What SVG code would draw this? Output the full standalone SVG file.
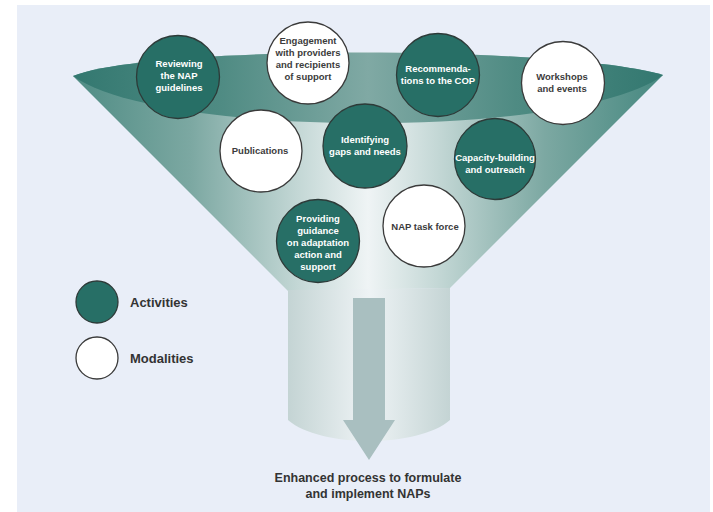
<svg xmlns="http://www.w3.org/2000/svg" width="713" height="512" viewBox="0 0 713 512">
  <defs>
    <linearGradient id="coneGrad" x1="73" y1="0" x2="663" y2="0" gradientUnits="userSpaceOnUse">
      <stop offset="0" stop-color="#4f8c84"/>
      <stop offset="0.2" stop-color="#7ca8a2"/>
      <stop offset="0.38" stop-color="#c3d7d5"/>
      <stop offset="0.5" stop-color="#eff4f5"/>
      <stop offset="0.62" stop-color="#c3d7d5"/>
      <stop offset="0.8" stop-color="#7ca8a2"/>
      <stop offset="1" stop-color="#468880"/>
    </linearGradient>
    <linearGradient id="lensGrad" x1="73" y1="0" x2="663" y2="0" gradientUnits="userSpaceOnUse">
      <stop offset="0" stop-color="#337870"/>
      <stop offset="0.25" stop-color="#4f8b83"/>
      <stop offset="0.5" stop-color="#80a9a4"/>
      <stop offset="0.75" stop-color="#4f8b83"/>
      <stop offset="1" stop-color="#337870"/>
    </linearGradient>
    <linearGradient id="spoutGrad" x1="288" y1="0" x2="450" y2="0" gradientUnits="userSpaceOnUse">
      <stop offset="0" stop-color="#c4d4d4"/>
      <stop offset="0.5" stop-color="#eef3f5"/>
      <stop offset="1" stop-color="#c4d4d4"/>
    </linearGradient>
    <style>
      .act { fill: #276f66; stroke: #2d3a38; stroke-width: 1.3; }
      .mod { fill: #ffffff; stroke: #3a3a3a; stroke-width: 1.3; }
      .lbl { font-family: "Liberation Sans", Arial, sans-serif; font-size: 9.5px; font-weight: bold; text-anchor: middle; }
      .lw { fill: #ffffff; }
      .ld { fill: #3c3c3c; }
      .leg { font-family: "Liberation Sans", Arial, sans-serif; font-size: 13px; font-weight: bold; fill: #333333; }
      .out { font-family: "Liberation Sans", Arial, sans-serif; font-size: 12.5px; font-weight: bold; fill: #333333; text-anchor: middle; }
    </style>
  </defs>

  <rect x="0" y="0" width="713" height="512" fill="#ffffff"/>
  <rect x="17" y="5" width="693" height="507" fill="#e9eef8"/>

  <g id="funnel">
    <path d="M73,76 L288,291 L450,288 L663,75 C560,45 150,45 73,76 Z" fill="url(#coneGrad)"/>
    <path d="M288,290 L288,420 C320,448 418,448 450,420 L450,288 Z" fill="url(#spoutGrad)"/>
    <path d="M73,76 C150,45 560,45 663,75 C580,139 160,139 73,76 Z" fill="url(#lensGrad)"/>
  </g>

  <g id="connectors">
    <path d="M353,298 L385,298 L385,420 L395,420 L369,460 L343,420 L353,420 Z" fill="#a9bfc0"/>
  </g>

  <g id="node-reviewing">
    <circle class="act" cx="178" cy="77" r="41.5"/>
    <text class="lbl lw"><tspan x="179" y="67">Reviewing</tspan><tspan x="179" y="79">the NAP</tspan><tspan x="179" y="91">guidelines</tspan></text>
  </g>
  <g id="node-engagement">
    <circle class="mod" cx="308" cy="63" r="41"/>
    <text class="lbl ld"><tspan x="308" y="44">Engagement</tspan><tspan x="308" y="56">with providers</tspan><tspan x="308" y="68">and recipients</tspan><tspan x="308" y="80">of support</tspan></text>
  </g>
  <g id="node-recommendations">
    <circle class="act" cx="438" cy="75" r="41.5"/>
    <text class="lbl lw"><tspan x="438" y="72">Recommenda-</tspan><tspan x="438" y="84">tions to the COP</tspan></text>
  </g>
  <g id="node-workshops">
    <circle class="mod" cx="563" cy="83" r="41.5"/>
    <text class="lbl ld"><tspan x="562" y="80">Workshops</tspan><tspan x="562" y="92">and events</tspan></text>
  </g>
  <g id="node-publications">
    <circle class="mod" cx="261" cy="151" r="41"/>
    <text class="lbl ld"><tspan x="260" y="154">Publications</tspan></text>
  </g>
  <g id="node-identifying">
    <circle class="act" cx="365" cy="146" r="42"/>
    <text class="lbl lw"><tspan x="365" y="143">Identifying</tspan><tspan x="365" y="155">gaps and needs</tspan></text>
  </g>
  <g id="node-capacity">
    <circle class="act" cx="495" cy="159" r="40.5"/>
    <text class="lbl lw"><tspan x="495" y="161">Capacity-building</tspan><tspan x="495" y="173">and outreach</tspan></text>
  </g>
  <g id="node-providing">
    <circle class="act" cx="318" cy="241" r="41.5"/>
    <text class="lbl lw"><tspan x="318" y="222">Providing</tspan><tspan x="318" y="234">guidance</tspan><tspan x="318" y="246">on adaptation</tspan><tspan x="318" y="258">action and</tspan><tspan x="318" y="270">support</tspan></text>
  </g>
  <g id="node-taskforce">
    <circle class="mod" cx="424" cy="226" r="41"/>
    <text class="lbl ld"><tspan x="425" y="230">NAP task force</tspan></text>
  </g>

  <g id="legend">
    <circle class="act" cx="97" cy="302" r="21"/>
    <text class="leg" x="130" y="307">Activities</text>
    <circle class="mod" cx="97" cy="358" r="21"/>
    <text class="leg" x="130" y="363">Modalities</text>
  </g>

  <g id="outcome">
    <text class="out"><tspan x="368" y="482">Enhanced process to formulate</tspan><tspan x="368" y="498">and implement NAPs</tspan></text>
  </g>
</svg>
